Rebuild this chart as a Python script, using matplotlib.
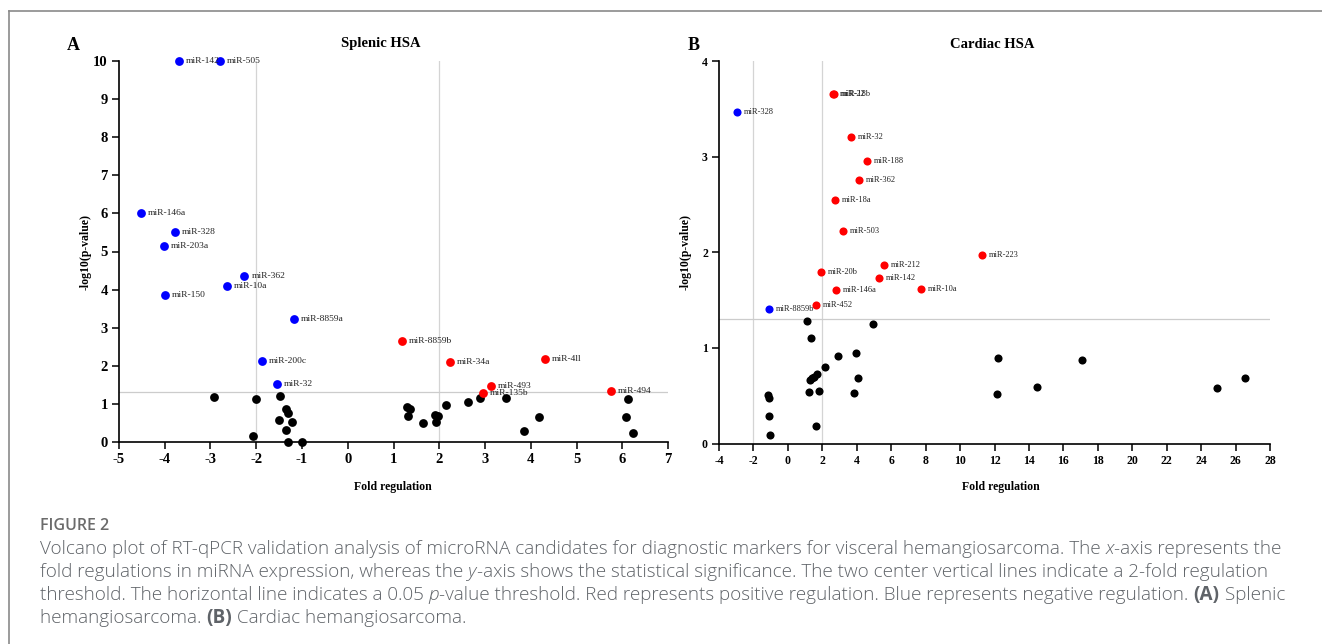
import matplotlib
matplotlib.use("Agg")
import matplotlib.pyplot as plt
from matplotlib.lines import Line2D

plt.rcParams["axes.unicode_minus"] = False

# ---------------- Data ----------------
# Panel A: Splenic HSA
a_blue_names = ["miR-142", "miR-505", "miR-146a", "miR-328", "miR-203a", "miR-362",
                "miR-10a", "miR-150", "miR-8859a", "miR-200c", "miR-32"]
a_blue_x = [-3.69, -2.79, -4.53, -3.78, -4.02, -2.26, -2.65, -3.99, -1.17, -1.88, -1.55]
a_blue_y = [10.0, 10.0, 6.0, 5.52, 5.14, 4.37, 4.10, 3.87, 3.22, 2.13, 1.53]

a_red_names = ["miR-8859b", "miR-34a", "miR-4ll", "miR-493", "miR-135b", "miR-494"]
a_red_x = [1.18, 2.23, 4.31, 3.13, 2.95, 5.75]
a_red_y = [2.65, 2.09, 2.17, 1.47, 1.29, 1.34]

a_black_x = [-2.92, -2.00, -1.47, -1.34, -1.31, -1.50, -1.21, -1.35, -2.07, -1.30, -1.01,
             1.30, 1.35, 1.31, 1.64, 1.91, 1.98, 1.92, 2.14, 2.63, 2.88, 3.45, 3.85, 4.17,
             6.12, 6.09, 6.23]
a_black_y = [1.19, 1.13, 1.21, 0.87, 0.76, 0.59, 0.53, 0.31, 0.17, 0.01, 0.01,
             0.91, 0.86, 0.69, 0.51, 0.70, 0.69, 0.53, 0.98, 1.05, 1.16, 1.16, 0.29, 0.65,
             1.13, 0.66, 0.23]

# Panel B: Cardiac HSA
b_blue_names = ["miR-328", "miR-8859b"]
b_blue_x = [-2.94, -1.10]
b_blue_y = [3.47, 1.41]

b_red_names = ["miR-22", "miR-18b", "miR-32", "miR-188", "miR-362", "miR-18a", "miR-503",
               "miR-223", "miR-212", "miR-20b", "miR-142", "miR-146a", "miR-10a", "miR-452"]
b_red_x = [2.64, 2.66, 3.65, 4.58, 4.11, 2.74, 3.20, 11.29, 5.56, 1.92, 5.31, 2.78, 7.73, 1.65]
b_red_y = [3.65, 3.65, 3.21, 2.95, 2.76, 2.55, 2.22, 1.97, 1.87, 1.79, 1.73, 1.61, 1.62, 1.45]

b_black_x = [1.10, 4.97, 1.36, 2.90, 3.98, 2.16, 1.70, 1.49, 1.40, 1.31, 4.05, 1.20, 1.79,
             3.82, 1.63, -1.13, -1.12, -1.10, -1.06, 12.23, 12.14, 14.44, 17.10, 24.90, 26.55]
b_black_y = [1.28, 1.25, 1.10, 0.92, 0.95, 0.80, 0.73, 0.70, 0.68, 0.66, 0.68, 0.54, 0.55,
             0.53, 0.18, 0.51, 0.48, 0.29, 0.09, 0.89, 0.52, 0.59, 0.87, 0.58, 0.68]

a_xticks = list(range(-5, 8))
a_yticks = list(range(0, 11))
b_xticks = list(range(-4, 29, 2))
b_yticks = list(range(0, 5))

fold_threshold = 2
p_threshold = 1.301

SERIF = "Liberation Serif"
SANS = "Open Sans"

W, H = 1322, 644
fig = plt.figure(figsize=(W / 100, H / 100), dpi=100)
fig.patch.set_facecolor("white")


def fx(px):
    return px / W


def fy(py):
    return 1 - py / H


def make_panel(rect, bx, by, bn, rx, ry, rn, kx, ky, xlim, ylim, xt, yt,
               tick_fs, lab_fs, ms, title, title_x, xl_fs, xlab_x, xlab_y, ylab_x):
    ax = fig.add_axes(rect)
    ax.set_xlim(*xlim)
    ax.set_ylim(*ylim)
    for s in ["top", "right"]:
        ax.spines[s].set_visible(False)
    for s in ["left", "bottom"]:
        ax.spines[s].set_linewidth(1.2)
    ax.set_xticks(xt)
    ax.set_yticks(yt)
    ax.tick_params(direction="out", length=5, width=1.1, pad=3)
    for lab in ax.get_xticklabels() + ax.get_yticklabels():
        lab.set_fontfamily(SERIF)
        lab.set_fontweight("bold")
        lab.set_fontsize(tick_fs)
    ax.axvline(-fold_threshold, color="#d4d4d4", lw=0.9, zorder=1)
    ax.axvline(fold_threshold, color="#d4d4d4", lw=0.9, zorder=1)
    ax.axhline(p_threshold, color="#cccccc", lw=0.9, zorder=1)
    ax.scatter(kx, ky, s=ms, color="black", zorder=3, clip_on=False, linewidths=0)
    ax.scatter(bx, by, s=ms, color="#0000ff", zorder=4, clip_on=False, linewidths=0)
    ax.scatter(rx, ry, s=ms, color="#ff0000", zorder=4, clip_on=False, linewidths=0)
    for n, x, y in list(zip(bn, bx, by)) + list(zip(rn, rx, ry)):
        ax.annotate(n, (x, y), xytext=(5, 0), textcoords="offset points",
                    va="center", ha="left", fontsize=lab_fs, family=SERIF,
                    color="#222222", zorder=5)
    ax.text(title_x, 1.0 + 17 / (rect[3] * H), title, transform=ax.transAxes,
            ha="center", va="center", fontsize=10.5, fontweight="bold", family=SERIF)
    ax.set_xlabel("Fold regulation", fontsize=xl_fs, fontweight="bold", family=SERIF)
    ax.set_ylabel("-log10(p-value)", fontsize=xl_fs, fontweight="bold", family=SERIF)
    ax.xaxis.set_label_coords(xlab_x, xlab_y)
    ax.yaxis.set_label_coords(ylab_x, 0.5)
    ax.xaxis.label.set_va("center")
    ax.yaxis.label.set_va("center")
    return ax


rectA = [fx(119), fy(442), fx(668) - fx(119), fy(61) - fy(442)]
rectB = [fx(719), fy(443.5), fx(1270) - fx(719), fy(61) - fy(443.5)]

axA = make_panel(rectA, a_blue_x, a_blue_y, a_blue_names, a_red_x, a_red_y, a_red_names,
                 a_black_x, a_black_y, (-5, 7), (0, 10), a_xticks, a_yticks,
                 10.5, 6.8, 40, "Splenic HSA", 0.477, 8.5,
                 (393 - 119) / 549, (442 - 487) / 381, (86 - 119) / 549)
axB = make_panel(rectB, b_blue_x, b_blue_y, b_blue_names, b_red_x, b_red_y, b_red_names,
                 b_black_x, b_black_y, (-4, 28), (0, 4), b_xticks, b_yticks,
                 8.5, 6.0, 34, "Cardiac HSA", 0.496, 8.5,
                 (1001 - 719) / 551, (443.5 - 487) / 382.5, (686 - 719) / 551)

fig.text(fx(73), fy(46), "A", fontsize=13, fontweight="bold", family=SERIF,
         ha="center", va="center")
fig.text(fx(694), fy(46), "B", fontsize=13, fontweight="bold", family=SERIF,
         ha="center", va="center")

# Frame lines
fig.add_artist(Line2D([fx(9), 1.0], [fy(11), fy(11)], color="#8a8a8a", lw=1.2,
                      transform=fig.transFigure))
fig.add_artist(Line2D([fx(9), fx(9)], [fy(11), 0.0], color="#8a8a8a", lw=1.2,
                      transform=fig.transFigure))

# Caption
cap_color = "#5f6368"
cap_fs = 13.6
fig.text(fx(40), fy(526), "FIGURE 2", fontsize=11.5, fontweight="semibold", family=SANS,
         color="#6b6b6b", ha="left", va="center")

renderer = fig.canvas.get_renderer()


def draw_segments(segments, x0, ypx):
    x = fx(x0)
    for txt, style, weight in segments:
        t = fig.text(x, fy(ypx), txt, fontsize=cap_fs, family=SANS, style=style,
                     fontweight=weight, color=cap_color, ha="left", va="center")
        bb = t.get_window_extent(renderer=renderer)
        x += bb.width / W


cap_lines = [
    [("Volcano plot of RT-qPCR validation analysis of microRNA candidates for diagnostic markers for visceral hemangiosarcoma. The ", "normal", "light"),
     ("x", "italic", "light"), ("-axis represents the", "normal", "light")],
    [("fold regulations in miRNA expression, whereas the ", "normal", "light"),
     ("y", "italic", "light"),
     ("-axis shows the statistical significance. The two center vertical lines indicate a 2-fold regulation", "normal", "light")],
    [("threshold. The horizontal line indicates a 0.05 ", "normal", "light"),
     ("p", "italic", "light"),
     ("-value threshold. Red represents positive regulation. Blue represents negative regulation. ", "normal", "light"),
     ("(A)", "normal", "bold"), (" Splenic", "normal", "light")],
    [("hemangiosarcoma. ", "normal", "light"), ("(B)", "normal", "bold"),
     (" Cardiac hemangiosarcoma.", "normal", "light")],
]
for i, segs in enumerate(cap_lines):
    draw_segments(segs, 40, 549 + 23 * i)

fig.savefig("out.png", dpi=100, facecolor="white")
